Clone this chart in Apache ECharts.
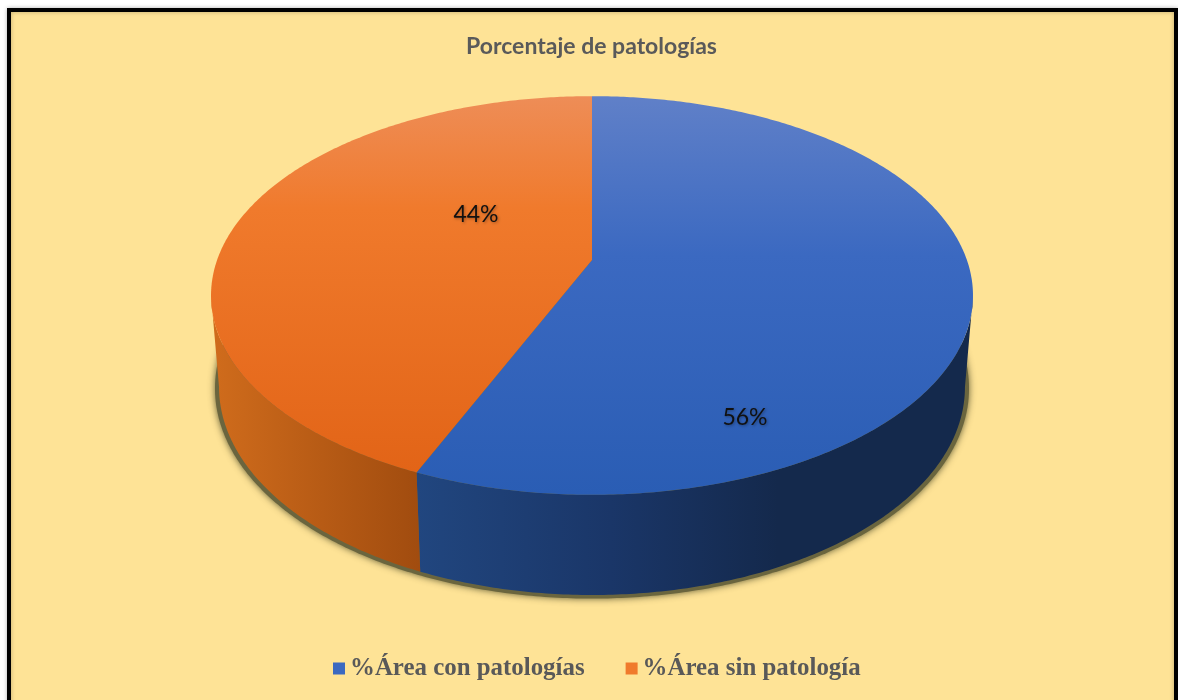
<!DOCTYPE html>
<html><head><meta charset="utf-8">
<style>html,body{margin:0;padding:0;background:#fff}#c{width:1178px;height:700px}</style>
<script src="https://cdn.jsdelivr.net/npm/echarts@6/dist/echarts.min.js"></script>
</head><body><div id="c"></div>
<script>
// Data
const categories = ['%Área con patologías', '%Área sin patología'];
const shares = [56.4, 43.6];
const titleText = 'Porcentaje de patologías';

// Layout / style (pixels)
const TOP = {cx: 592, y0: 260, A: 374.9, B: 193};
const BASE = {cx: 592, y0: 350, A: 367, B: 201.4};
const SHADOW = {cx: 592, y0: 351, A: 371, B: 203.5};
const P = 0.178;
const labelAnchors = [[476, 215], [745, 418]].reverse();
const topStops = [
  [[0, '#6080C8'], [0.4, '#3B69C1'], [1, '#2A5DB4']],
  [[0, '#EE8D57'], [0.3, '#F07A2C'], [1, '#E26417']]
];
const wallStops = [
  [[0, '#21467F'], [0.35, '#1A3668'], [0.65, '#14294C'], [1, '#14294C']],
  [[0, '#D06C1C'], [1, '#A14C0F']]
];
const legendColors = ['#3B69C0', '#F07A2C'];

const total = shares.reduce((a, b) => a + b, 0);
const ranges = [];
shares.reduce((acc, v) => { const e = acc + v / total * 2 * Math.PI; ranges.push([acc, e]); return e; }, 0);

function proj(d, th) {
  const u = Math.sin(th), v = -Math.cos(th), w = 1 - P * v;
  return [d.cx + d.A * u / w, d.y0 + d.B * v / w];
}
function arc(d, a, b) {
  const n = Math.max(2, Math.ceil(Math.abs(b - a) / 0.01)), pts = [];
  for (let i = 0; i <= n; i++) pts.push(proj(d, a + (b - a) * i / n));
  return pts;
}
const wallMin = Math.acos(-P), wallMax = 2 * Math.PI - wallMin;
const grad = (x, y, x2, y2, stops) => new echarts.graphic.LinearGradient(x, y, x2, y2, stops.map(s => ({offset: s[0], color: s[1]})));

function sliceRender(idx) {
  return function () {
    const [a, b] = ranges[idx];
    const children = [];
    const wa = Math.max(a, wallMin), wb = Math.min(b, wallMax);
    if (wb > wa) {
      children.push({type: 'polygon', shape: {points: arc(TOP, wa, wb).concat(arc(BASE, wb, wa))},
        style: {fill: grad(0, 0, 1, 0, wallStops[idx])}});
    }
    children.push({type: 'polygon', shape: {points: [[TOP.cx, TOP.y0]].concat(arc(TOP, a, b))},
      style: {fill: grad(0, 0, 0, 1, topStops[idx])}});
    children.push({type: 'text', x: labelAnchors[idx][0], y: labelAnchors[idx][1], z2: 10,
      style: {text: Math.round(shares[idx]) + '%', fill: '#111', font: '23px Lato', align: 'center', verticalAlign: 'middle',
        textShadowBlur: 3, textShadowColor: 'rgba(0,0,0,.35)', textShadowOffsetX: 1, textShadowOffsetY: 1}});
    return {type: 'group', children};
  };
}

const chart = echarts.init(document.getElementById('c'), null, {renderer: 'canvas'});
chart.setOption({
  animation: false,
  backgroundColor: '#ffffff',
  title: {text: titleText, left: 591.5, top: 35, padding: 0, textAlign: 'center',
    textStyle: {fontFamily: 'Lato', fontSize: 23, fontWeight: 'bold', color: '#5A5A5A'}},
  legend: {data: categories, left: 333, top: 656, padding: 0, itemWidth: 12, itemHeight: 12, itemGap: 41, icon: 'rect',
    textStyle: {fontFamily: '"Liberation Serif"', fontSize: 24.9, fontWeight: 'bold', color: '#595959'}},
  graphic: [{type: 'rect', z: -1, silent: true, shape: {x: 9, y: 10, width: 1167, height: 710},
    style: {fill: '#FEE396', stroke: '#000', lineWidth: 4, shadowBlur: 4, shadowColor: 'rgba(0,0,0,.25)'}}],
  series: [
    {type: 'custom', name: '__shadow', coordinateSystem: 'none', z: 1, silent: true, data: [0],
      renderItem: () => ({type: 'polygon', shape: {points: arc(SHADOW, 0, 2 * Math.PI)},
        style: {fill: '#6A653E', shadowBlur: 7, shadowColor: 'rgba(70,68,36,.85)'}})},
    ...categories.map((name, i) => ({type: 'custom', name, coordinateSystem: 'none', z: 2, silent: true, data: [shares[i]],
      itemStyle: {color: legendColors[i]}, renderItem: sliceRender(i)}))
  ]
});
</script></body></html>
